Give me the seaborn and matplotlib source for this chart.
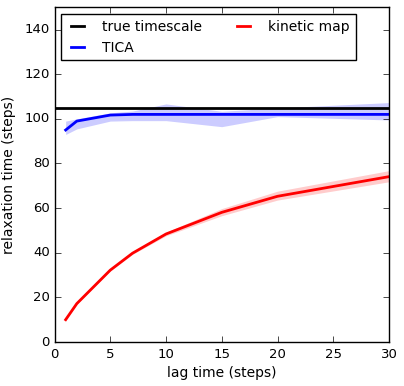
import matplotlib
matplotlib.use("Agg")
import matplotlib.pyplot as plt
import seaborn as sns
import numpy as np

lag = [1, 2, 5, 7, 10, 15, 20, 30]
true_ts = 105.0

tica = [95.0, 99.0, 101.7, 102.0, 102.0, 102.0, 102.0, 102.0]
tica_lo = [93.0, 95.5, 99.0, 99.2, 99.2, 96.5, 101.0, 99.5]
tica_hi = [99.0, 100.0, 102.7, 103.5, 106.7, 103.4, 104.9, 107.3]

kmap = [10.0, 17.2, 32.2, 39.8, 48.4, 58.1, 65.3, 74.1]
kmap_lo = [9.8, 16.9, 31.8, 39.3, 47.6, 56.6, 63.6, 71.8]
kmap_hi = [10.2, 17.5, 32.6, 40.3, 49.2, 59.8, 67.6, 76.8]

plt.style.use('classic')
fs = 10
plt.rcParams['font.size'] = fs
plt.rcParams['xtick.labelsize'] = 9.5
plt.rcParams['ytick.labelsize'] = 9.5
plt.rcParams['axes.labelsize'] = fs
plt.rcParams['xtick.major.pad'] = 4
plt.rcParams['ytick.major.pad'] = 3.5

fig = plt.figure(figsize=(4.04, 3.86), dpi=100, facecolor='white')
ax = fig.add_axes([54.5 / 404, 1 - 342 / 386, 334.5 / 404, 334.7 / 386])

sns.lineplot(x=[0, 30], y=[true_ts, true_ts], color='black', lw=2,
             label='true timescale', ax=ax)
sns.lineplot(x=lag, y=tica, color='blue', lw=2, label='TICA', ax=ax)
ax.fill_between(lag, tica_lo, tica_hi, color='blue', alpha=0.2, lw=0)
sns.lineplot(x=lag, y=kmap, color='red', lw=2, label='kinetic map', ax=ax)
ax.fill_between(lag, kmap_lo, kmap_hi, color='red', alpha=0.2, lw=0)

ax.set_xlim(0, 30)
ax.set_ylim(0, 150)
ax.set_xticks(range(0, 31, 5))
ax.set_yticks(range(0, 141, 20))
ax.set_xlabel('lag time (steps)', labelpad=4)
ax.set_ylabel('relaxation time (steps)', labelpad=6)
ax.legend(loc='upper left', ncol=2, fontsize=fs, handlelength=1.55,
          handletextpad=1.0, columnspacing=2.2, labelspacing=0.5)

fig.savefig('out.png', dpi=100, facecolor='white')
